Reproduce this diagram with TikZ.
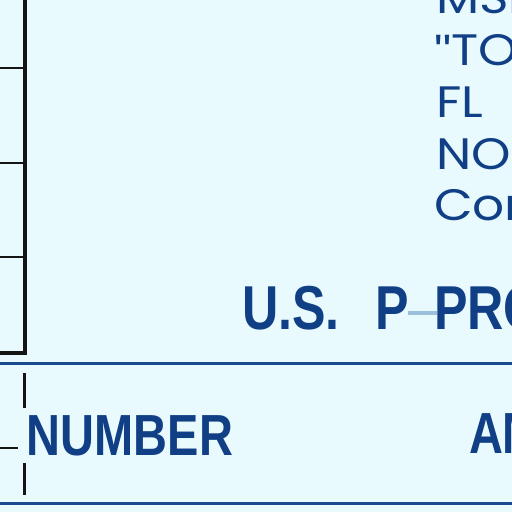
\documentclass[tikz,border=0pt]{standalone}
\usepackage{fontspec}
\setmainfont[FakeStretch=1.14]{Poppins}
\newfontfamily\quotefont[FakeStretch=1.1]{Liberation Sans}
\newfontfamily\condbold[FakeStretch=0.81]{Liberation Sans Bold}
\definecolor{bg}{HTML}{E8FAFD}
\definecolor{ink}{HTML}{103F85}
\definecolor{lineblue}{HTML}{1A4A8E}
\definecolor{paleblue}{HTML}{9CBFDC}
\definecolor{blk}{HTML}{151515}
\tikzset{
  txt/.style={inner sep=0pt, outer sep=0pt, anchor=base west, text=ink},
  righttxt/.style={txt, font=\fontsize{44}{44}\selectfont},
  bigtxt/.style={txt, font=\condbold\fontsize{58}{58}\selectfont},
  hugetxt/.style={txt, font=\condbold\fontsize{62}{62}\selectfont},
  frame/.style={draw=blk, line width=3.2pt},
  tick/.style={draw=blk, line width=2.4pt},
  rule/.style={draw=lineblue, line width=3.2pt},
}
\begin{document}
\begin{tikzpicture}[x=1pt,y=-1pt]
\fill[bg] (0,0) rectangle (512,512);
\useasboundingbox (0,0) rectangle (512,512);
\clip (0,0) rectangle (512,512);
% left frame
\coordinate (vt) at (25,-2);
\coordinate (vb) at (25,353);
\draw[frame] (vt) -- (vb);
\coordinate (h1) at (0,68);  \coordinate (h1e) at (24,68);
\coordinate (h2) at (0,163); \coordinate (h2e) at (24,163);
\coordinate (h3) at (0,257); \coordinate (h3e) at (24,257);
\coordinate (h4) at (0,353); \coordinate (h4e) at (26.6,353);
\draw[tick] (h1) -- (h1e);
\draw[tick] (h2) -- (h2e);
\draw[tick] (h3) -- (h3e);
\draw[frame] (h4) -- (h4e);
% blue rules
\coordinate (r1a) at (0,363.5);  \coordinate (r1b) at (514,363.5);
\coordinate (r2a) at (0,503.5);  \coordinate (r2b) at (514,503.5);
\draw[rule] (r1a) -- (r1b);
\draw[rule] (r2a) -- (r2b);
% dashed divider
\coordinate (d1a) at (24,373); \coordinate (d1b) at (24,408);
\coordinate (d2a) at (24,463); \coordinate (d2b) at (24,495);
\draw[tick, line width=3pt] (d1a) -- (d1b);
\draw[tick, line width=3pt] (d2a) -- (d2b);
\coordinate (d3a) at (0,448); \coordinate (d3b) at (18,448);
\draw[tick] (d3a) -- (d3b);
% right column text
\node[righttxt] (t1) at (436,13) {MSL};
\node[righttxt] (t2) at (434,65) {{\quotefont\symbol{34}}TO};
\node[righttxt] (t3) at (436,117) {FL};
\node[righttxt] (t4) at (436,169) {NO};
\node[righttxt] (t5) at (434,220) {Con};
% title
\node[hugetxt] (us) at (242,329) {U.S.};
\node[hugetxt] (p1) at (375,329) {P};
\node[hugetxt] (pro) at (434,329) {PRO};
\coordinate (dsa) at (408,313); \coordinate (dsb) at (437,313);
\draw[paleblue, line width=3.2pt] (dsa) -- (dsb);
% column headings
\node[bigtxt] (num) at (27,455) {NUMBER};
\node[bigtxt] (am) at (469,453) {AM};
\end{tikzpicture}
\end{document}
